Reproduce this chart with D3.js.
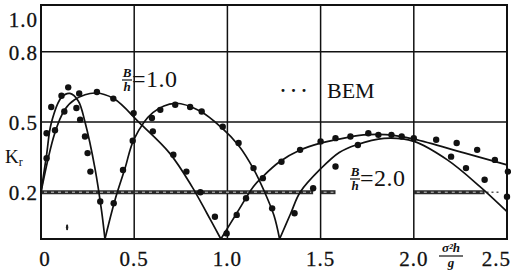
<!DOCTYPE html>
<html>
<head>
<meta charset="utf-8">
<script src="https://cdn.jsdelivr.net/npm/d3@7"></script>
<style>
    body { margin: 0; background: #fff; }
    svg text { font-family: "Liberation Serif", "DejaVu Serif", serif; fill: #111; }
</style>
</head>
<body>
<svg id="chart" width="511" height="280"></svg>
<script>
// Tick values and labels.
const xTicks = [0, 0.5, 1.0, 1.5, 2.0, 2.5];
const xTickLabels = ['0', '0.5', '1.0', '1.5', '2.0', '2.5'];
const yTicks = [0.2, 0.5, 0.8, 1.0];
const yTickLabels = ['0.2', '0.5', '0.8', '1.0'];
const xGrid = [0.5, 1.0, 1.5, 2.0];
const yGrid = [0.5, 0.8];

// Solid curves, one list of lobes each (lobes meet at the zeros).
const curveA = [
    [[0, 0.2], [0.03, 0.36], [0.055, 0.495], [0.11, 0.605], [0.155, 0.622], [0.2, 0.59], [0.236, 0.5], [0.29, 0.3], [0.325, 0.12], [0.343, 0]],
    [[0.343, 0], [0.397, 0.167], [0.45, 0.3], [0.5, 0.428], [0.6, 0.54], [0.72, 0.58], [0.85, 0.548], [0.97, 0.475], [1.06, 0.4], [1.14, 0.3], [1.2, 0.2], [1.25, 0.1], [1.28, 0]],
    [[1.28, 0], [1.34, 0.11], [1.39, 0.2], [1.5, 0.3], [1.6, 0.37], [1.69, 0.402], [1.84, 0.43], [2.0, 0.417], [2.18, 0.338], [2.355, 0.224], [2.5, 0.117]]
];
const curveB = [
    [[0, 0.2], [0.073, 0.45], [0.127, 0.552], [0.18, 0.595], [0.29, 0.624], [0.39, 0.6], [0.53, 0.495], [0.69, 0.367], [0.81, 0.224], [0.89, 0.11], [0.965, 0]],
    [[0.965, 0], [1.05, 0.11], [1.14, 0.224], [1.19, 0.267], [1.28, 0.33], [1.39, 0.38], [1.5, 0.41], [1.58, 0.424], [1.73, 0.445], [1.85, 0.446], [2.0, 0.427], [2.27, 0.368], [2.5, 0.317]]
];

// BEM points.
const bemPoints = [
    [0.03, 0.345], [0.03, 0.452], [0.055, 0.564], [0.075, 0.465], [0.11, 0.612], [0.125, 0.545],
    [0.146, 0.648], [0.19, 0.56], [0.205, 0.622], [0.21, 0.51], [0.236, 0.438], [0.25, 0.367],
    [0.265, 0.288], [0.3, 0.628], [0.318, 0.16], [0.388, 0.6], [0.39, 0.153], [0.44, 0.295],
    [0.492, 0.42], [0.497, 0.538], [0.595, 0.517], [0.6, 0.46], [0.64, 0.552], [0.71, 0.36],
    [0.72, 0.574], [0.78, 0.288], [0.8, 0.564], [0.855, 0.2], [0.862, 0.545], [0.933, 0.095],
    [0.975, 0.48], [0.996, 0.024], [1.05, 0.103], [1.06, 0.41], [1.1, 0.174], [1.14, 0.303],
    [1.19, 0.26], [1.24, 0.131], [1.29, 0.33], [1.36, 0.11], [1.39, 0.381], [1.46, 0.217],
    [1.5, 0.417], [1.58, 0.31], [1.58, 0.431], [1.66, 0.438], [1.7, 0.402], [1.756, 0.452],
    [1.81, 0.445], [1.88, 0.445], [1.935, 0.438], [2.0, 0.431], [2.12, 0.424], [2.2, 0.352],
    [2.23, 0.41], [2.28, 0.303], [2.34, 0.381], [2.38, 0.253], [2.435, 0.338], [2.5, 0.181],
    [2.505, 0.288]
];

// Thick band at K = 0.2 (pieces of it).
const bandLevel = 0.2;
const bandPieces = [[0, 1.46], [1.5, 1.58], [2.0, 2.38]];

const svg = d3.select('#chart');
const x = d3.scaleLinear().domain([0, 2.5]).range([41, 507]);
const y = d3.scaleLinear().domain([0, 1]).range([239, 5]);

// Grid.
svg.append('g')
    .selectAll('line')
    .data(xGrid)
    .join('line')
    .attr('x1', d => x(d)).attr('x2', d => x(d))
    .attr('y1', y(0)).attr('y2', y(1))
    .attr('stroke', '#111').attr('stroke-width', 1.5);
svg.append('g')
    .selectAll('line')
    .data(yGrid)
    .join('line')
    .attr('x1', x(0)).attr('x2', x(2.5))
    .attr('y1', d => y(d)).attr('y2', d => y(d))
    .attr('stroke', '#111').attr('stroke-width', 1.5);

// Band at 0.2: dark bar with a light stipple.
const band = svg.append('g');
band.selectAll('line.dark')
    .data(bandPieces)
    .join('line')
    .attr('class', 'dark')
    .attr('x1', d => x(d[0])).attr('x2', d => x(d[1]))
    .attr('y1', y(bandLevel)).attr('y2', y(bandLevel))
    .attr('stroke', '#2a2a2a').attr('stroke-width', 4);
band.selectAll('line.light')
    .data(bandPieces)
    .join('line')
    .attr('class', 'light')
    .attr('x1', d => x(d[0]) + 3).attr('x2', d => x(d[1]) - 2)
    .attr('y1', y(bandLevel)).attr('y2', y(bandLevel))
    .attr('stroke', '#ccc').attr('stroke-width', 1)
    .attr('stroke-dasharray', '3,4');
svg.append('line')
    .attr('x1', x(2.39)).attr('x2', x(2.47))
    .attr('y1', y(bandLevel)).attr('y2', y(bandLevel))
    .attr('stroke', '#555').attr('stroke-width', 1.5)
    .attr('stroke-dasharray', '2,3');

// Frame.
svg.append('rect')
    .attr('x', x(0)).attr('y', y(1))
    .attr('width', x(2.5) - x(0)).attr('height', y(0) - y(1))
    .attr('fill', 'none').attr('stroke', '#111').attr('stroke-width', 2);

// Curves.
const line = d3.line()
    .x(d => x(d[0]))
    .y(d => y(d[1]))
    .curve(d3.curveCatmullRom.alpha(0.5));
[curveA, curveB].forEach(c => {
    svg.append('g')
        .selectAll('path')
        .data(c)
        .join('path')
        .attr('d', line)
        .attr('fill', 'none')
        .attr('stroke', '#111')
        .attr('stroke-width', 1.7);
});

// BEM dots.
svg.append('g')
    .selectAll('circle')
    .data(bemPoints)
    .join('circle')
    .attr('cx', d => x(d[0]))
    .attr('cy', d => y(d[1]))
    .attr('r', 3.2)
    .attr('fill', '#111');

// Small stray mark near the bottom.
svg.append('ellipse')
    .attr('cx', x(0.14)).attr('cy', y(0.05))
    .attr('rx', 1.2).attr('ry', 3)
    .attr('fill', '#222');

// Tick labels.
svg.append('g')
    .selectAll('text')
    .data(yTicks)
    .join('text')
    .attr('x', 38)
    .attr('y', d => d === 1.0 ? 27 : y(d) + 8)
    .attr('text-anchor', 'end')
    .attr('font-size', 21)
    .attr('letter-spacing', 1)
    .attr('stroke', '#111').attr('stroke-width', 0.3)
    .text((d, i) => yTickLabels[i]);
svg.append('g')
    .selectAll('text')
    .data(xTicks)
    .join('text')
    .attr('x', d => d === 2.5 ? 511 : x(d) + (d === 0 ? 4 : 0))
    .attr('y', 266)
    .attr('text-anchor', d => d === 2.5 ? 'end' : 'middle')
    .attr('font-size', 21)
    .attr('letter-spacing', 1)
    .attr('stroke', '#111').attr('stroke-width', 0.3)
    .text((d, i) => xTickLabels[i]);

// Axis titles.
const kr = svg.append('text').attr('x', 5).attr('y', 163).attr('font-size', 19);
kr.append('tspan').text('K');
kr.append('tspan').attr('font-size', 12).attr('dy', 3).text('r');

const sx = 451;
svg.append('text').attr('x', sx).attr('y', 252).attr('text-anchor', 'middle')
    .attr('font-size', 13).attr('font-style', 'italic').attr('font-weight', 'bold').text('σ²h');
svg.append('line').attr('x1', sx - 12).attr('x2', sx + 12).attr('y1', 256).attr('y2', 256)
    .attr('stroke', '#111').attr('stroke-width', 1.2);
svg.append('text').attr('x', sx).attr('y', 267).attr('text-anchor', 'middle')
    .attr('font-size', 13).attr('font-style', 'italic').attr('font-weight', 'bold').text('g');

// Ratio labels.
const ratioLabel = (px, py, value) => {
    const g = svg.append('g').attr('transform', `translate(${px},${py})`);
    g.append('text').attr('x', 3).attr('y', -2).attr('text-anchor', 'middle')
        .attr('font-size', 13).attr('font-style', 'italic').attr('font-weight', 'bold').text('B');
    g.append('line').attr('x1', -2).attr('x2', 8).attr('y1', 1).attr('y2', 1)
        .attr('stroke', '#111').attr('stroke-width', 1.2);
    g.append('text').attr('x', 3).attr('y', 12).attr('text-anchor', 'middle')
        .attr('font-size', 13).attr('font-style', 'italic').attr('font-weight', 'bold').text('h');
    g.append('text').attr('x', 8).attr('y', 8).attr('font-size', 24)
        .attr('letter-spacing', 0.5).text('=' + value);
};
ratioLabel(124, 79, '1.0');
ratioLabel(352, 178, '2.0');

// Legend.
svg.append('text').attr('x', 280).attr('y', 97).attr('font-size', 18).attr('font-weight', 'bold').text('· · ·');
svg.append('text').attr('x', 327).attr('y', 98).attr('font-size', 22).text('BEM');
</script>
</body>
</html>
